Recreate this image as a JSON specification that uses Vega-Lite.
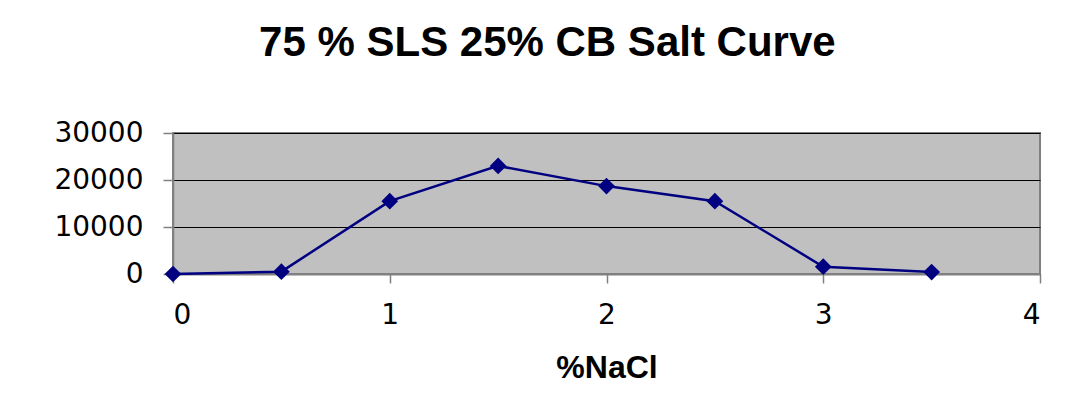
{
  "$schema": "https://vega.github.io/schema/vega-lite/v6.json",
  "autosize": "none",
  "width": 867,
  "height": 141,
  "padding": {"left": 173, "top": 133, "right": 28, "bottom": 138},
  "background": "white",
  "title": {
    "text": "75 % SLS 25% CB Salt Curve",
    "font": "Liberation Sans",
    "fontSize": 42,
    "fontWeight": "bold",
    "color": "black",
    "anchor": "middle",
    "frame": "bounds",
    "offset": 54
  },
  "data": {
    "values": [
      {"nacl": 0, "value": 0},
      {"nacl": 0.5, "value": 500},
      {"nacl": 1, "value": 15500},
      {"nacl": 1.5, "value": 23000},
      {"nacl": 2, "value": 18700},
      {"nacl": 2.5, "value": 15500},
      {"nacl": 3, "value": 1550},
      {"nacl": 3.5, "value": 400}
    ]
  },
  "encoding": {
    "x": {
      "field": "nacl",
      "type": "quantitative",
      "title": "%NaCl",
      "scale": {"domain": [0, 4], "nice": false, "zero": false},
      "axis": {
        "values": [0, 1, 2, 3, 4],
        "grid": false,
        "domainColor": "#808080",
        "domainWidth": 2,
        "tickColor": "#808080",
        "tickWidth": 1.5,
        "tickSize": 9,
        "labelFont": "DejaVu Sans",
        "labelFontSize": 28,
        "labelColor": "black",
        "labelPadding": 18,
        "titleFont": "Liberation Sans",
        "titleFontSize": 32,
        "titleFontWeight": "bold",
        "titleColor": "black",
        "titlePadding": 23
      }
    },
    "y": {
      "field": "value",
      "type": "quantitative",
      "title": null,
      "scale": {"domain": [0, 30000], "nice": false},
      "axis": {
        "values": [0, 10000, 20000, 30000],
        "format": "d",
        "grid": true,
        "gridColor": "black",
        "gridWidth": 1,
        "domainColor": "#808080",
        "domainWidth": 1.5,
        "tickColor": "#808080",
        "tickWidth": 1.5,
        "tickSize": 10,
        "labelFont": "DejaVu Sans",
        "labelFontSize": 28,
        "labelColor": "black",
        "labelPadding": 20
      }
    }
  },
  "layer": [
    {"mark": {"type": "line", "color": "#000080", "strokeWidth": 2.5}},
    {"mark": {"type": "point", "shape": "diamond", "filled": true, "color": "#000080", "opacity": 1, "size": 280}}
  ],
  "config": {
    "view": {"fill": "#C0C0C0", "stroke": "#808080", "strokeWidth": 2}
  }
}
